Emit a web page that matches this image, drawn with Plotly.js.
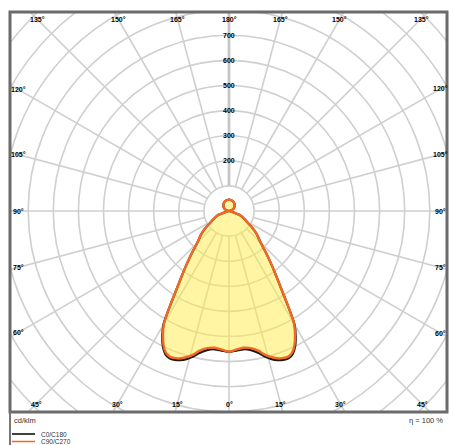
<!DOCTYPE html>
<html>
<head>
<meta charset="utf-8">
<script src="https://cdn.plot.ly/plotly-3.0.1.min.js"></script>
<style>
html,body{margin:0;padding:0;background:#fff;}
#chart{width:449px;height:445px;}
</style>
</head>
<body>
<div id="chart"></div>
<script>
// ---- data (cd/klm), gamma angle from nadir in degrees ----
const gamma = [0,3,6,9,12,14,16,18,20,22,24,26,28,30,32,34,36,38,40,42,45,50,55,58,60,65,70,72,75,80,85,90,100,110,120,130,140,150,160,170,180];
const c0c180 = [561,557,554,561,579,599,614,625,631,633,624,601,566,522,440,370,320,280,245,215,178,145,110,88,78,61,44,24,9,3,1,0,8,15,22.5,29,34.5,39,42.3,44.3,45];
const c90c270 = [561,553,548,553,570,590,605,617,624,627,618,595,560,518,440,370,320,280,245,215,178,145,110,88,78,62,45,25,9,3,1,0,8,15,22.5,29,34.5,39,42.3,44.3,45];
const seriesNames = ['C0/C180','C90/C270'];
const ringLabels = [200,300,400,500,600,700];
const ringValues = [100,200,300,400,500,600,700,800,900,1000,1100,1200,1300];
const topAngles = [135,150,165,180,165,150,135];
const sideAngles = [120,105,90,75,60];
const bottomAngles = [45,30,15,0,15,30,45];
const unitLabel = 'cd/klm';
const effLabel = 'η = 100 %';

// ---- geometry helpers ----
const W = 449, H = 445;
const L = 10, R = 447, T = 12, B = 412;   // plot frame in px
const CX = 229, CY = 211;                 // pole position in px
const S = 0.251;                          // px per cd/klm
const xr = [(L - CX) / S, (R - CX) / S];
const yr = [-(B - CY) / S, (CY - T) / S];
const rad = d => d * Math.PI / 180;

function curve(vals) {
  const xs = [], ys = [];
  for (let i = 0; i < gamma.length; i++) {          // C0 side (right)
    xs.push(vals[i] * Math.sin(rad(gamma[i])));
    ys.push(-vals[i] * Math.cos(rad(gamma[i])));
  }
  for (let i = gamma.length - 2; i >= 0; i--) {     // C180 side (left)
    xs.push(-vals[i] * Math.sin(rad(gamma[i])));
    ys.push(-vals[i] * Math.cos(rad(gamma[i])));
  }
  return {xs, ys};
}
const k0 = curve(c0c180), k90 = curve(c90c270);

const traces = [
  {x: k0.xs, y: k0.ys, mode: 'lines', name: seriesNames[0], fill: 'toself',
   fillcolor: 'rgba(255,236,70,0.5)', line: {color: '#1a1a1a', width: 2.2, shape: 'spline', smoothing: 0.8}},
  {x: k90.xs, y: k90.ys, mode: 'lines', name: seriesNames[1],
   line: {color: '#f26a22', width: 2.4, shape: 'spline', smoothing: 0.8}}
];

const shapes = [];
const gridColor = '#cfcfcf';
ringValues.forEach(r => shapes.push({type: 'circle', xref: 'x', yref: 'y', x0: -r, x1: r, y0: -r, y1: r,
  line: {color: gridColor, width: 1.6}, layer: 'below'}));
for (let a = 0; a < 360; a += 15) {
  const s = Math.sin(rad(a)), c = Math.cos(rad(a));
  const thick = (a === 180);
  shapes.push({type: 'line', xref: 'x', yref: 'y', x0: 100 * s, y0: -100 * c, x1: 1400 * s, y1: -1400 * c,
    line: {color: thick ? '#c6c6c6' : gridColor, width: thick ? 2.8 : 1.6}, layer: 'below'});
}
// frame
shapes.push({type: 'rect', xref: 'paper', yref: 'paper', x0: 0, x1: 1, y0: 0, y1: 1,
  line: {color: '#6b6b6b', width: 3}, layer: 'above'});
const pxX = p => (p - L) / (R - L);
const pxY = p => (B - p) / (B - T);
shapes.push({type: 'line', xref: 'paper', yref: 'paper', x0: 0, x1: 0, y0: 0, y1: pxY(446),
  line: {color: '#777', width: 2}});
// legend sample lines
shapes.push({type: 'line', xref: 'paper', yref: 'paper', x0: pxX(12), x1: pxX(35), y0: pxY(434), y1: pxY(434),
  line: {color: '#000', width: 1.5}});
shapes.push({type: 'line', xref: 'paper', yref: 'paper', x0: pxX(12), x1: pxX(35), y0: pxY(441.5), y1: pxY(441.5),
  line: {color: '#f26a22', width: 1.5}});

const ann = [];
const lblFont = {family: 'Liberation Sans, Arial, sans-serif', size: 7, color: '#000', weight: 'bold'};
// top labels
const yTop = (CY - 19) / S;
topAngles.forEach((a, i) => {
  const side = i < 3 ? -1 : 1;
  const x = side * yTop * Math.tan(rad(180 - a));
  ann.push({x: x, y: yTop, xref: 'x', yref: 'y', text: a + '°', showarrow: false, font: lblFont, xanchor: 'center', yanchor: 'middle'});
});
// bottom labels
const yBot = -(404 - CY) / S;
bottomAngles.forEach((a, i) => {
  const side = i < 3 ? -1 : 1;
  const x = side * (-yBot) * Math.tan(rad(a));
  ann.push({x: x, y: yBot, xref: 'x', yref: 'y', text: a + '°', showarrow: false, font: lblFont, xanchor: 'center', yanchor: 'middle'});
});
// side labels
const xLeft = -(CX - 18.5) / S, xRight = (440.5 - CX) / S;
sideAngles.forEach(a => {
  const t = -Math.cos(rad(a)) / Math.sin(rad(a));
  ann.push({x: xLeft, y: -xLeft * t, xref: 'x', yref: 'y', text: a + '°', showarrow: false, font: lblFont, xanchor: 'center', yanchor: 'middle'});
  ann.push({x: xRight, y: xRight * t, xref: 'x', yref: 'y', text: a + '°', showarrow: false, font: lblFont, xanchor: 'center', yanchor: 'middle'});
});
// ring labels
ringLabels.forEach(r => ann.push({x: 0, y: r, xref: 'x', yref: 'y', text: String(r), showarrow: false,
  font: {family: 'Liberation Sans, Arial, sans-serif', size: 7, color: '#000', weight: 'bold'}, xanchor: 'center', yanchor: 'middle'}));
// bottom texts
const botFont = {family: 'Liberation Sans, Arial, sans-serif', size: 7.5, color: '#333'};
ann.push({x: pxX(12), y: pxY(420), xref: 'paper', yref: 'paper', text: unitLabel, showarrow: false, font: botFont, xanchor: 'left', yanchor: 'middle'});
ann.push({x: pxX(445), y: pxY(420), xref: 'paper', yref: 'paper', text: effLabel, showarrow: false, font: botFont, xanchor: 'right', yanchor: 'middle'});
const legFont = {family: 'Liberation Sans, Arial, sans-serif', size: 6.5, color: '#333'};
ann.push({x: pxX(39), y: pxY(434), xref: 'paper', yref: 'paper', text: seriesNames[0], showarrow: false, font: legFont, xanchor: 'left', yanchor: 'middle'});
ann.push({x: pxX(39), y: pxY(441), xref: 'paper', yref: 'paper', text: seriesNames[1], showarrow: false, font: legFont, xanchor: 'left', yanchor: 'middle'});

const layout = {
  width: W, height: H,
  margin: {l: L, r: W - R, t: T, b: H - B, pad: 0},
  paper_bgcolor: '#fff', plot_bgcolor: '#fff',
  showlegend: false, hovermode: false,
  xaxis: {range: xr, visible: false, fixedrange: true},
  yaxis: {range: yr, visible: false, fixedrange: true},
  shapes: shapes, annotations: ann
};
Plotly.newPlot('chart', traces, layout, {displayModeBar: false, staticPlot: true});
</script>
</body>
</html>
